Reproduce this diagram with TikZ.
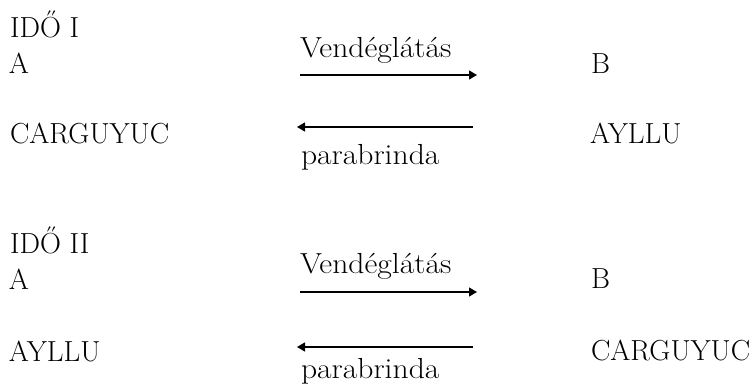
\documentclass[tikz,border=0pt]{standalone}
\usepackage{fontspec}
\setmainfont{Latin Modern Roman}
\newfontfamily\widefont[FakeStretch=1.09]{Latin Modern Roman}
\usetikzlibrary{arrows.meta}
\tikzset{
  lbl/.style={anchor=base west, inner sep=0pt, outer sep=0pt, font=\fontsize{29}{34}\selectfont},
  wlbl/.style={anchor=base west, inner sep=0pt, outer sep=0pt, font=\widefont\fontsize{29}{34}\selectfont},
  flow/.style={line width=1.3pt, -{Triangle[length=8pt,width=9pt]}}
}
\begin{document}
\begin{tikzpicture}[x=1pt,y=-1pt]
\useasboundingbox (0,0) rectangle (753,386);
% Block I
\node[lbl] (t1) at (10,37) {IDŐ I};
\node[lbl] (a1) at (9,73) {A};
\node[lbl] (c1) at (10,143) {CARGUYUC};
\node[wlbl] (v1) at (300,57) {Vendéglátás};
\node[wlbl] (p1) at (301,164) {parabrinda};
\node[lbl] (b1) at (591,73) {B};
\node[lbl] (y1) at (590,143) {AYLLU};
\coordinate (r1s) at (300,75);
\coordinate (r1e) at (477,75);
\coordinate (l1s) at (473,127);
\coordinate (l1e) at (297,127);
\draw[flow] (r1s) -- (r1e);
\draw[flow] (l1s) -- (l1e);
% Block II
\node[lbl] (t2) at (10,253) {IDŐ II};
\node[lbl] (a2) at (9,289) {A};
\node[lbl] (y2) at (9,361) {AYLLU};
\node[wlbl] (v2) at (300,273) {Vendéglátás};
\node[wlbl] (p2) at (301,378) {parabrinda};
\node[lbl] (b2) at (591,288) {B};
\node[lbl] (c2) at (591,360) {CARGUYUC};
\coordinate (r2s) at (300,292);
\coordinate (r2e) at (477,292);
\coordinate (l2s) at (473,347);
\coordinate (l2e) at (297,347);
\draw[flow] (r2s) -- (r2e);
\draw[flow] (l2s) -- (l2e);
\end{tikzpicture}
\end{document}
